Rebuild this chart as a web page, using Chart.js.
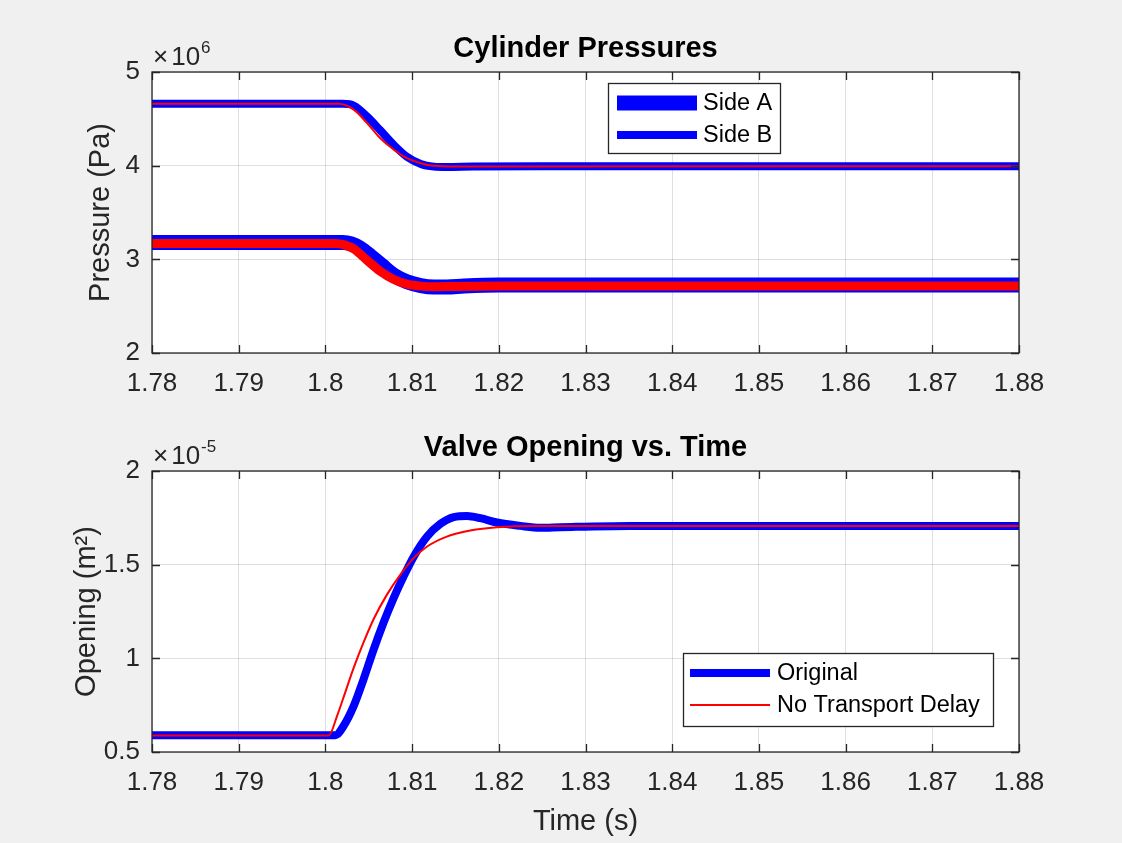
<!DOCTYPE html>
<html>
<head>
<meta charset="utf-8">
<script src="https://cdn.jsdelivr.net/npm/chart.js@4.4.1/dist/chart.umd.min.js"></script>
<style>
    body { margin: 0; background: #f0f0f0; }
    canvas { display: block; position: absolute; left: 0; }
</style>
</head>
<body>
<canvas id="pressureChart" width="1122" height="421" style="top:0"></canvas>
<canvas id="valveChart" width="1122" height="422" style="top:421px"></canvas>
<script>
// ---- data ----
const xTicks = [1.78, 1.79, 1.80, 1.81, 1.82, 1.83, 1.84, 1.85, 1.86, 1.87, 1.88];
const xTickLabels = ['1.78', '1.79', '1.8', '1.81', '1.82', '1.83', '1.84', '1.85', '1.86', '1.87', '1.88'];

const pressureTicks = [2e6, 3e6, 4e6, 5e6];
const pressureTickLabels = ['2', '3', '4', '5'];
const openingTicks = [0.5e-5, 1e-5, 1.5e-5, 2e-5];
const openingTickLabels = ['0.5', '1', '1.5', '2'];

// Side A (original, wide blue) and its no-delay run (red)
const sideATime = [1.78, 1.8020, 1.8030, 1.8040, 1.8052, 1.8065, 1.8079, 1.8094, 1.8110, 1.8125, 1.8140, 1.8160, 1.8200, 1.88];
const sideAPa = [3.18e6, 3.18e6, 3.165e6, 3.12e6, 3.035e6, 2.935e6, 2.83e6, 2.76e6, 2.72e6, 2.705e6, 2.705e6, 2.715e6, 2.725e6, 2.725e6];
const sideANoDelayTime = [1.78, 1.8011, 1.8022, 1.8033, 1.8048, 1.8063, 1.8079, 1.8094, 1.8110, 1.8125, 1.8150, 1.8200, 1.88];
const sideANoDelayPa = [3.17e6, 3.17e6, 3.155e6, 3.11e6, 2.99e6, 2.875e6, 2.785e6, 2.735e6, 2.714e6, 2.707e6, 2.71e6, 2.715e6, 2.715e6];

// Side B (original, blue) and its no-delay run (red)
const sideBTime = [1.78, 1.8020, 1.8033, 1.8048, 1.8063, 1.8079, 1.8094, 1.8110, 1.8125, 1.8140, 1.8170, 1.8250, 1.88];
const sideBPa = [4.66e6, 4.66e6, 4.64e6, 4.525e6, 4.38e6, 4.22e6, 4.095e6, 4.018e6, 3.99e6, 3.985e6, 3.99e6, 3.995e6, 3.995e6];
const sideBNoDelayTime = [1.78, 1.8015, 1.8033, 1.8048, 1.8063, 1.8079, 1.8094, 1.8110, 1.8125, 1.8150, 1.88];
const sideBNoDelayPa = [4.66e6, 4.66e6, 4.595e6, 4.455e6, 4.295e6, 4.17e6, 4.08e6, 4.026e6, 3.998e6, 3.99e6, 3.995e6];

// valve opening
const originalTime = [1.78, 1.80115, 1.80211, 1.80327, 1.8044, 1.80557, 1.8067, 1.80788, 1.80903, 1.8102, 1.81173, 1.81327, 1.8148, 1.81634, 1.81788, 1.8198, 1.8225, 1.8248, 1.8271, 1.8350, 1.88];
const originalOpening = [0.59e-5, 0.59e-5, 0.64e-5, 0.746e-5, 0.888e-5, 1.048e-5, 1.19e-5, 1.323e-5, 1.438e-5, 1.544e-5, 1.65e-5, 1.718e-5, 1.754e-5, 1.76e-5, 1.748e-5, 1.725e-5, 1.707e-5, 1.697e-5, 1.70e-5, 1.707e-5, 1.707e-5];
const noDelayTime = [1.78, 1.80038, 1.80135, 1.8023, 1.80327, 1.8044, 1.80557, 1.8071, 1.80865, 1.8102, 1.81173, 1.8140, 1.8167, 1.8198, 1.8244, 1.88];
const noDelayOpening = [0.588e-5, 0.588e-5, 0.693e-5, 0.82e-5, 0.95e-5, 1.085e-5, 1.21e-5, 1.34e-5, 1.447e-5, 1.536e-5, 1.597e-5, 1.65e-5, 1.682e-5, 1.70e-5, 1.707e-5, 1.707e-5];

const FONT = "'Liberation Sans', Arial, sans-serif";
const AXIS_COLOR = '#262626';
const BLUE = '#0000ff';
const RED = '#ff0000';

function toPoints(xs, ys) {
    return xs.map((x, i) => ({ x: x, y: ys[i] }));
}

// MATLAB style box, inward ticks, title, exponent label and legend
const matlabAxes = {
    id: 'matlabAxes',
    beforeDraw(chart) {
        const a = chart.chartArea;
        chart.ctx.save();
        chart.ctx.fillStyle = '#ffffff';
        chart.ctx.fillRect(a.left, a.top, a.right - a.left, a.bottom - a.top);
        chart.ctx.restore();
    },
    afterDatasetsDraw(chart, args, opts) {
        const ctx = chart.ctx;
        const a = chart.chartArea;
        const xs = chart.scales.x;
        const ys = chart.scales.y;
        ctx.save();

        ctx.strokeStyle = AXIS_COLOR;
        ctx.lineWidth = 1.3;
        ctx.beginPath();
        xs.ticks.forEach(t => {
            const px = Math.round(xs.getPixelForValue(t.value)) + 0.5;
            ctx.moveTo(px, a.bottom); ctx.lineTo(px, a.bottom - 8);
            ctx.moveTo(px, a.top); ctx.lineTo(px, a.top + 8);
        });
        ys.ticks.forEach(t => {
            const py = Math.round(ys.getPixelForValue(t.value)) + 0.5;
            ctx.moveTo(a.left, py); ctx.lineTo(a.left + 8, py);
            ctx.moveTo(a.right, py); ctx.lineTo(a.right - 8, py);
        });
        ctx.stroke();
        ctx.strokeRect(a.left, a.top, a.right - a.left, a.bottom - a.top);

        // title
        ctx.fillStyle = '#000';
        ctx.font = 'bold 29px ' + FONT;
        ctx.textAlign = 'center';
        ctx.textBaseline = 'alphabetic';
        ctx.fillText(opts.title, (a.left + a.right) / 2, a.top - 15);

        // exponent "x10^n"
        ctx.fillStyle = AXIS_COLOR;
        ctx.textAlign = 'left';
        ctx.font = '26px ' + FONT;
        const ex = a.left + 1;
        const eb = a.top - 7;
        ctx.fillText('\u00d7', ex, eb);
        const w1 = ctx.measureText('\u00d7').width + 3;
        ctx.fillText('10', ex + w1, eb);
        const w2 = ctx.measureText('10').width + 1;
        ctx.font = '17px ' + FONT;
        ctx.fillText(opts.exponent, ex + w1 + w2, eb - 12);

        // legend
        const lg = opts.legend;
        ctx.fillStyle = '#fff';
        ctx.fillRect(lg.x, lg.y, lg.w, lg.h);
        ctx.strokeStyle = AXIS_COLOR;
        ctx.lineWidth = 1.3;
        ctx.strokeRect(lg.x + 0.5, lg.y + 0.5, lg.w, lg.h);
        const entries = chart.data.datasets.filter(d => d.inLegend);
        ctx.font = '23.5px ' + FONT;
        ctx.textBaseline = 'middle';
        entries.forEach((d, i) => {
            const yy = lg.rows[i];
            ctx.strokeStyle = d.borderColor;
            ctx.lineWidth = d.borderWidth;
            ctx.beginPath();
            ctx.moveTo(lg.lineX1, yy);
            ctx.lineTo(lg.lineX2, yy);
            ctx.stroke();
            ctx.fillStyle = '#000';
            ctx.fillText(d.label, lg.textX, yy + 1);
        });

        ctx.restore();
    }
};

function makeOptions(cfg) {
    return {
        responsive: false,
        animation: false,
        layout: { padding: { left: 0, right: 103, top: cfg.padTop, bottom: 0 } },
        elements: { point: { radius: 0 } },
        plugins: {
            legend: { display: false },
            tooltip: { enabled: false },
            matlabAxes: { title: cfg.title, exponent: cfg.exponent, legend: cfg.legend }
        },
        scales: {
            x: {
                type: 'linear',
                min: 1.78,
                max: 1.88,
                afterBuildTicks: s => { s.ticks = xTicks.map(v => ({ value: v })); },
                afterFit: s => { s.height = cfg.xHeight; },
                grid: { color: 'rgba(38,38,38,0.15)', drawTicks: false },
                border: { display: false },
                ticks: {
                    color: AXIS_COLOR,
                    font: { family: FONT, size: 26 },
                    padding: 15,
                    maxRotation: 0,
                    callback: (v, i) => xTickLabels[i]
                },
                title: {
                    display: !!cfg.xTitle,
                    text: cfg.xTitle || '',
                    color: AXIS_COLOR,
                    font: { family: FONT, size: 29 },
                    padding: { top: 0, bottom: 4 }
                }
            },
            y: {
                type: 'linear',
                min: cfg.yTicks[0],
                max: cfg.yTicks[cfg.yTicks.length - 1],
                afterBuildTicks: s => { s.ticks = cfg.yTicks.map(v => ({ value: v })); },
                afterFit: s => { s.width = 152; },
                grid: { color: 'rgba(38,38,38,0.15)', drawTicks: false },
                border: { display: false },
                ticks: {
                    color: AXIS_COLOR,
                    font: { family: FONT, size: 26 },
                    padding: 12,
                    callback: (v, i) => cfg.yTickLabels[i]
                },
                title: {
                    display: true,
                    text: cfg.yTitle,
                    color: AXIS_COLOR,
                    font: { family: FONT, size: 29 },
                    padding: { top: cfg.yTitlePad, bottom: 0 }
                }
            }
        }
    };
}

function lineSet(label, xs, ys, color, width, order, inLegend) {
    return {
        label: label,
        data: toPoints(xs, ys),
        borderColor: color,
        backgroundColor: color,
        borderWidth: width,
        borderJoinStyle: 'round',
        cubicInterpolationMode: 'monotone',
        fill: false,
        order: order,
        inLegend: inLegend
    };
}

new Chart(document.getElementById('pressureChart'), {
    type: 'line',
    data: {
        datasets: [
            lineSet('Side A', sideATime, sideAPa, BLUE, 15, 2, true),
            lineSet('Side B', sideBTime, sideBPa, BLUE, 8, 2, true),
            lineSet('Side A (no delay)', sideANoDelayTime, sideANoDelayPa, RED, 9, 1, false),
            lineSet('Side B (no delay)', sideBNoDelayTime, sideBNoDelayPa, RED, 2, 1, false)
        ]
    },
    options: makeOptions({
        padTop: 72,
        xHeight: 68,
        title: 'Cylinder Pressures',
        exponent: '6',
        yTitle: 'Pressure (Pa)',
        yTitlePad: 84,
        yTicks: pressureTicks,
        yTickLabels: pressureTickLabels,
        legend: { x: 608, y: 83, w: 172, h: 70, rows: [103, 135], lineX1: 617, lineX2: 697, textX: 703 }
    }),
    plugins: [matlabAxes]
});

new Chart(document.getElementById('valveChart'), {
    type: 'line',
    data: {
        datasets: [
            lineSet('Original', originalTime, originalOpening, BLUE, 8, 2, true),
            lineSet('No Transport Delay', noDelayTime, noDelayOpening, RED, 2, 1, true)
        ]
    },
    options: makeOptions({
        padTop: 50,
        xHeight: 91,
        xTitle: 'Time (s)',
        title: 'Valve Opening vs. Time',
        exponent: '-5',
        yTitle: 'Opening (m\u00b2)',
        yTitlePad: 70,
        yTicks: openingTicks,
        yTickLabels: openingTickLabels,
        legend: { x: 683, y: 232, w: 310, h: 73, rows: [252, 284], lineX1: 690, lineX2: 770, textX: 777 }
    }),
    plugins: [matlabAxes]
});
</script>
</body>
</html>
